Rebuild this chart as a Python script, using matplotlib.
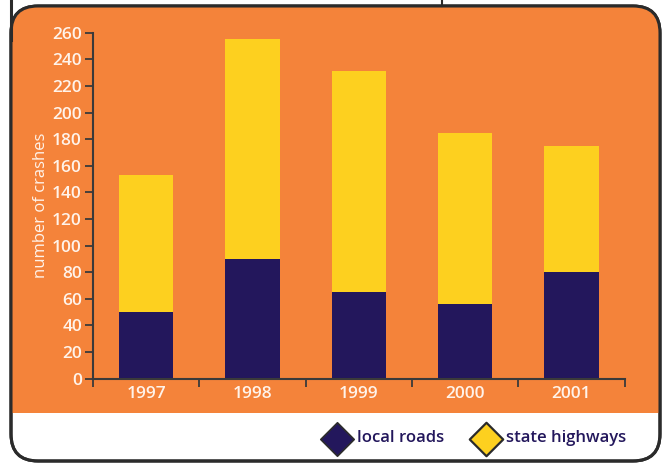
import matplotlib
matplotlib.use('Agg')
import matplotlib.pyplot as plt
from matplotlib.patches import FancyBboxPatch, Rectangle
from matplotlib.lines import Line2D

years = ['1997', '1998', '1999', '2000', '2001']
local_roads = [50, 90, 65, 56, 80]
state_highways = [103, 165, 166, 129, 95]
y_ticks = list(range(0, 261, 20))

ORANGE = '#F4833A'
YELLOW = '#FDD01F'
NAVY = '#23175C'
EDGE = '#2b2b2b'
LABEL = '#FFF3EA'

plt.rcParams['font.family'] = ['Open Sans', 'DejaVu Sans']
plt.rcParams['font.weight'] = 'semibold'

W, H = 666, 463
fig = plt.figure(figsize=(W / 100, H / 100), dpi=100)
fig.patch.set_facecolor('white')

# background in pixel coordinates
bg = fig.add_axes([0, 0, 1, 1])
bg.set_xlim(0, W)
bg.set_ylim(H, 0)
bg.axis('off')

box = FancyBboxPatch((11 + 27, 6 + 27), 649 - 54, 455 - 54,
                     boxstyle='round,pad=27', facecolor='white',
                     edgecolor=EDGE, linewidth=2.2, zorder=1)
bg.add_patch(box)
orange = Rectangle((0, 0), W, 413, facecolor=ORANGE, edgecolor='none', zorder=2)
bg.add_patch(orange)
orange.set_clip_path(box)
edge = FancyBboxPatch((11 + 27, 6 + 27), 649 - 54, 455 - 54,
                      boxstyle='round,pad=27', facecolor='none',
                      edgecolor=EDGE, linewidth=2.2, zorder=3)
bg.add_patch(edge)
bg.add_line(Line2D([11, 11], [0, 40], color=EDGE, lw=2.2, zorder=3))
bg.add_line(Line2D([442, 442], [0, 6], color=EDGE, lw=1.5, zorder=3))

# legend
bg.scatter([337], [438.5], marker='D', s=290, color=NAVY, edgecolor=EDGE, lw=1.2, zorder=4)
bg.text(357, 438.5, 'local roads', color=NAVY, fontsize=12, va='center', ha='left', zorder=4)
bg.scatter([486], [438.5], marker='D', s=290, color=YELLOW, edgecolor=EDGE, lw=1.6, zorder=4)
bg.text(506, 438.5, 'state highways', color=NAVY, fontsize=12, va='center', ha='left', zorder=4)

# chart
x0, x1 = 93, 624.7
y0, y1 = 378.7, 32.7
ax = fig.add_axes([x0 / W, (H - y0) / H, (x1 - x0) / W, (y0 - y1) / H])
ax.patch.set_alpha(0)

pos = list(range(len(years)))
ax.bar(pos, local_roads, width=0.51, color=NAVY, zorder=2)
ax.bar(pos, state_highways, width=0.51, bottom=local_roads, color=YELLOW, zorder=2)

ax.set_xlim(-0.5, len(years) - 0.5)
ax.set_ylim(0, 260)
ax.set_yticks(y_ticks)
ax.set_xticks(pos)
ax.set_xticklabels(years)
ax.set_xticks([p - 0.5 for p in range(len(years) + 1)], minor=True)

for s in ['top', 'right']:
    ax.spines[s].set_visible(False)
for s in ['left', 'bottom']:
    ax.spines[s].set_color('#3a3a3a')
    ax.spines[s].set_linewidth(1.5)

ax.tick_params(axis='y', length=6, width=1.3, color='#3a3a3a', labelcolor=LABEL,
               labelsize=12.5, pad=2)
ax.tick_params(axis='x', which='major', length=0, labelcolor=LABEL, labelsize=12.5, pad=5)
ax.tick_params(axis='x', which='minor', length=6, width=1.3, color='#3a3a3a')
ax.set_ylabel('number of crashes', color=LABEL, fontsize=12, fontweight='normal', labelpad=2)

fig.savefig('out.png', dpi=100)
